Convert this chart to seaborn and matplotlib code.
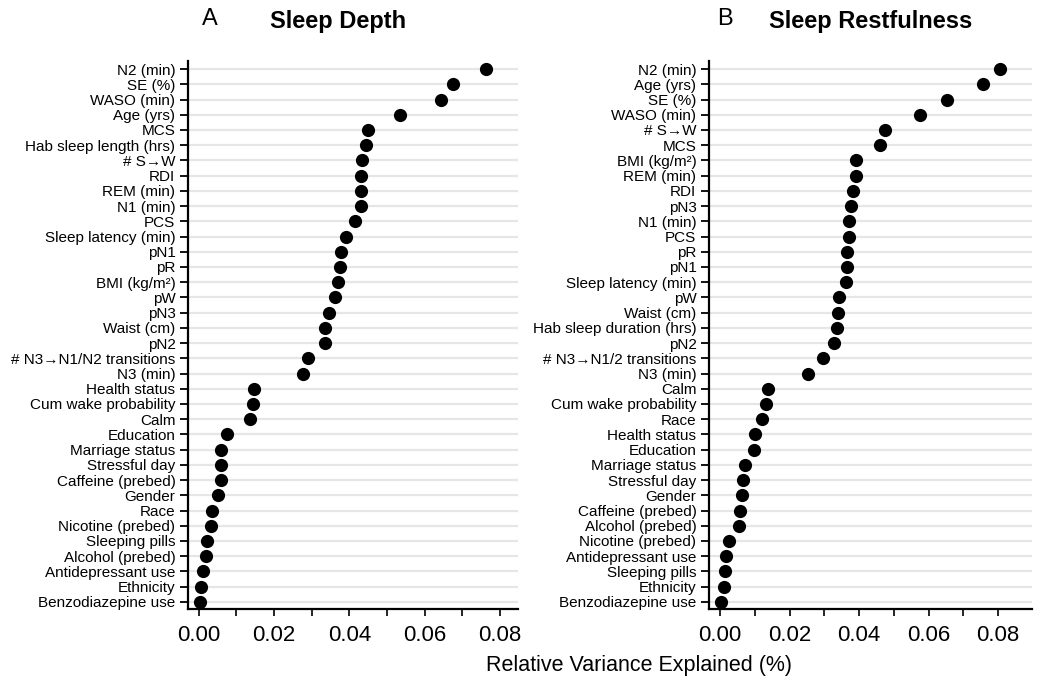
import matplotlib
matplotlib.use('Agg')
import matplotlib.pyplot as plt
import seaborn as sns
from matplotlib.ticker import MultipleLocator

sns.set_style('white')
plt.rcParams['font.family'] = ['Liberation Sans', 'DejaVu Sans']
plt.rcParams['text.color'] = 'black'
plt.rcParams['xtick.color'] = 'black'
plt.rcParams['ytick.color'] = 'black'

depth_labels = ['N2 (min)', 'SE (%)', 'WASO (min)', 'Age (yrs)', 'MCS',
                'Hab sleep length (hrs)', '# S\u2192W', 'RDI', 'REM (min)', 'N1 (min)',
                'PCS', 'Sleep latency (min)', 'pN1', 'pR', 'BMI (kg/m\u00b2)', 'pW',
                'pN3', 'Waist (cm)', 'pN2', '# N3\u2192N1/N2 transitions', 'N3 (min)',
                'Health status', 'Cum wake probability', 'Calm', 'Education',
                'Marriage status', 'Stressful day', 'Caffeine (prebed)', 'Gender',
                'Race', 'Nicotine (prebed)', 'Sleeping pills', 'Alcohol (prebed)',
                'Antidepressant use', 'Ethnicity', 'Benzodiazepine use']
depth_values = [0.0763, 0.0675, 0.0643, 0.0535, 0.0449, 0.0445, 0.0434, 0.0432,
                0.0431, 0.0430, 0.0416, 0.0390, 0.0379, 0.0376, 0.0369, 0.0363,
                0.0347, 0.0335, 0.0335, 0.0290, 0.0277, 0.0146, 0.0144, 0.0135,
                0.0076, 0.0060, 0.0059, 0.0058, 0.0050, 0.0036, 0.0033, 0.0022,
                0.0019, 0.0012, 0.0007, 0.0004]

rest_labels = ['N2 (min)', 'Age (yrs)', 'SE (%)', 'WASO (min)', '# S\u2192W', 'MCS',
               'BMI (kg/m\u00b2)', 'REM (min)', 'RDI', 'pN3', 'N1 (min)', 'PCS', 'pR',
               'pN1', 'Sleep latency (min)', 'pW', 'Waist (cm)',
               'Hab sleep duration (hrs)', 'pN2', '# N3\u2192N1/2 transitions',
               'N3 (min)', 'Calm', 'Cum wake probability', 'Race', 'Health status',
               'Education', 'Marriage status', 'Stressful day', 'Gender',
               'Caffeine (prebed)', 'Alcohol (prebed)', 'Nicotine (prebed)',
               'Antidepressant use', 'Sleeping pills', 'Ethnicity',
               'Benzodiazepine use']
rest_values = [0.0806, 0.0758, 0.0653, 0.0576, 0.0474, 0.0461, 0.0390, 0.0390,
               0.0383, 0.0376, 0.0372, 0.0371, 0.0366, 0.0364, 0.0363, 0.0343,
               0.0339, 0.0337, 0.0327, 0.0296, 0.0254, 0.0139, 0.0132, 0.0121,
               0.0100, 0.0099, 0.0071, 0.0066, 0.0064, 0.0056, 0.0055, 0.0025,
               0.0016, 0.0014, 0.0010, 0.0004]

fig = plt.figure(figsize=(10.5, 6.9), dpi=100)
ax1 = fig.add_axes([0.179, 0.1167, 0.3143, 0.7942])
ax2 = fig.add_axes([0.6752, 0.1167, 0.3077, 0.7942])

# axes, labels, values, title, panel letter, xlim, letter x, title x (axes frac)
panels = [(ax1, depth_labels, depth_values, 'Sleep Depth', 'A', (-0.0029, 0.0848), 0.200, 0.455),
          (ax2, rest_labels, rest_values, 'Sleep Restfulness', 'B', (-0.0032, 0.0898), 0.690, 0.5)]

for ax, labels, values, title, letter, xlim, lx, tx in panels:
    sns.stripplot(x=values, y=labels, ax=ax, jitter=False, color='black',
                  size=9.5, linewidth=0, zorder=3)
    ax.set_xlim(*xlim)
    ax.set_ylim(len(labels) - 0.5, -0.5)
    ax.yaxis.grid(True, color='#e6e6e6', linewidth=1.6, zorder=0)
    ax.xaxis.grid(False)
    ax.set_axisbelow(True)
    for side in ['top', 'right']:
        ax.spines[side].set_visible(False)
    for side in ['left', 'bottom']:
        ax.spines[side].set_color('black')
        ax.spines[side].set_linewidth(1.6)
    ax.xaxis.set_major_locator(MultipleLocator(0.02))
    ax.xaxis.set_minor_locator(MultipleLocator(0.01))
    ax.xaxis.set_major_formatter(matplotlib.ticker.FormatStrFormatter('%.2f'))
    ax.tick_params(axis='y', which='major', left=True, length=6, width=1.3,
                   labelsize=11, pad=3)
    ax.tick_params(axis='x', which='both', bottom=True, length=5, width=1.2,
                   labelsize=16, pad=6)
    ax.set_xlabel('')
    ax.set_ylabel('')
    ax.set_title(title, fontsize=17, fontweight='bold', pad=24, x=tx)
    fig.text(lx, 0.972, letter, fontsize=17, ha='center', va='center')

fig.text(0.609, 0.036, 'Relative Variance Explained (%)', fontsize=15.5,
         ha='center', va='center')

fig.savefig('out.png', dpi=100)
